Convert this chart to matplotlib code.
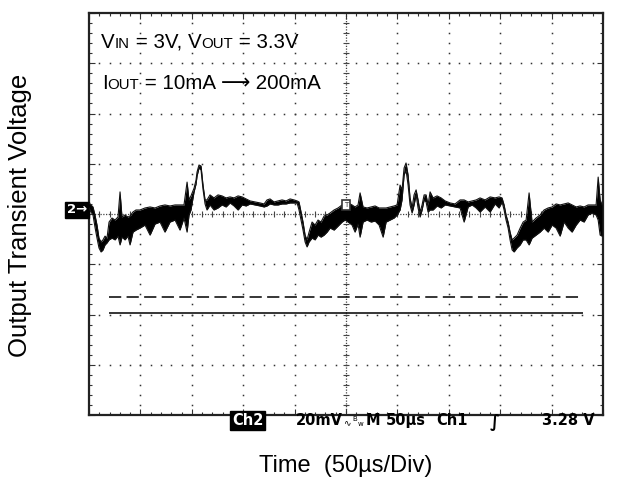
import matplotlib
matplotlib.use("Agg")
import matplotlib.pyplot as plt
import numpy as np

# ---- data (time in microseconds, voltage in mV, 20 mV/div, 50 us/div) ----
t_us = [0, 1.9, 3.9, 5.8, 7.8, 9.7, 11.7, 13.6, 15.6, 17.5,
        19.5, 22.4, 25.3, 28.2, 30.2, 32.1, 35.0, 37.9, 39.9, 42.8,
        45.7, 49.6, 54.5, 59.4, 64.2, 69.1, 73.9, 78.8, 83.7, 88.5,
        92.4, 95.4, 97.3, 99.2, 102.2, 104.1, 105.1, 107.0, 109.0, 110.9,
        112.9, 114.8, 117.7, 121.6, 125.5, 129.4, 133.3, 137.2, 141.1, 145.0,
        148.9, 152.8, 156.7, 161.5, 166.4, 170.3, 173.2, 176.1, 180.0, 183.9,
        187.8, 191.7, 195.6, 199.5, 202.4, 204.3, 206.3, 208.2, 210.2, 212.1,
        214.1, 217.0, 219.9, 222.8, 225.7, 228.7, 231.6, 234.5, 238.4, 242.3,
        246.2, 249.1, 252.0, 255.9, 258.8, 261.7, 263.7, 266.6, 270.5, 274.4,
        278.3, 282.2, 286.1, 289.0, 292.9, 296.8, 299.7, 302.6, 304.5, 306.5,
        308.4, 310.4, 312.3, 314.3, 316.2, 318.2, 320.1, 322.1, 324.0, 326.0,
        327.9, 329.8, 331.8, 334.7, 338.6, 342.5, 346.4, 351.3, 356.1, 361.0,
        364.9, 368.8, 372.7, 376.6, 380.4, 385.3, 390.2, 395.0, 398.9, 401.8,
        403.8, 405.7, 407.7, 409.6, 411.6, 413.5, 416.4, 419.4, 422.3, 425.2,
        428.1, 431.0, 434.9, 438.8, 442.7, 446.6, 450.5, 454.4, 458.3, 462.2,
        466.1, 469.9, 473.9, 477.7, 481.6, 485.5, 489.4, 493.3, 495.3, 497.2,
        499.1]

v_hi_mv = [4.4, 3.6, 2.8, -0.4, -4.4, -9.6, -11.1, -10.3, -8.8, -9.6,
           -3.2, -1.6, -2.4, -1.2, 8.8, -1.2, -0.4, -1.2, -0.8, 0.8,
           1.6, 1.6, 2.4, 2.8, 2.4, 3.2, 3.6, 3.2, 3.6, 3.6,
           3.6, 12.7, 5.6, 7.2, 10.3, 13.5, 16.7, 19.5, 19.1, 11.5,
           5.6, 5.6, 7.6, 6.4, 7.6, 7.2, 6.4, 6.8, 6.4, 7.2,
           6.8, 6.0, 5.2, 4.8, 4.4, 4.0, 5.6, 6.0, 4.8, 5.2,
           5.6, 5.2, 6.0, 5.6, 5.2, 4.8, 0.8, -3.2, -8.4, -10.3,
           -7.2, -3.2, -4.4, -2.4, -3.2, -0.8, -0.4, 0.4, 1.6, 2.4,
           3.6, 4.0, 4.4, 3.6, 2.8, 3.6, 8.4, 2.8, 2.4, 2.8,
           3.2, 2.4, 2.4, 2.4, 2.8, 3.2, 3.6, 11.5, 9.6, 18.3,
           20.3, 15.5, 6.4, 2.4, 7.6, 9.6, 5.6, 0.8, 3.6, 7.6,
           7.6, 3.6, 8.8, 6.4, 7.2, 6.4, 5.2, 4.4, 4.0, 5.6,
           5.6, 4.8, 5.2, 5.6, 6.4, 5.6, 6.8, 6.4, 6.8, 6.4,
           3.6, -0.4, -3.2, -7.2, -10.3, -9.6, -8.4, -5.6, -3.2, -2.4,
           8.4, -3.2, -1.6, -0.4, 1.6, 2.4, 2.8, 4.0, 3.6, 4.0,
           4.4, 3.6, 2.8, 3.2, 2.8, 3.6, 3.6, 3.6, 14.7, 5.6,
           3.6]

v_lo_mv = [2.4, 0.8, -0.4, -5.2, -9.6, -13.5, -15.1, -14.3, -12.3, -11.5,
           -10.3, -9.6, -10.3, -8.8, -12.3, -9.2, -10.3, -8.8, -12.3, -7.2,
           -6.4, -5.6, -4.4, -8.4, -4.0, -3.2, -7.2, -3.2, -2.4, -6.4,
           -1.6, -7.2, -0.4, 1.6, 8.8, 11.9, 15.1, 18.3, 17.5, 9.9,
           4.0, 1.6, 3.6, 1.6, 2.4, 3.6, 2.8, 4.4, 3.2, 1.6,
           3.6, 3.2, 4.0, 3.6, 3.2, 2.8, 3.2, 4.0, 3.6, 3.6,
           4.0, 4.0, 4.4, 4.4, 4.4, 1.6, -2.4, -6.4, -11.1, -13.1,
           -11.1, -9.6, -10.3, -8.4, -9.2, -8.4, -7.2, -5.6, -6.4, -4.8,
           -3.2, -2.4, -3.2, -4.4, -7.2, -4.0, -9.2, -3.2, -2.4, -3.2,
           -2.8, -4.4, -9.2, -3.2, -2.4, -1.6, -0.4, 1.6, 5.6, 15.5,
           17.5, 11.5, 3.6, 0.4, 3.6, 7.6, 2.4, -1.2, 1.6, 5.6,
           4.8, 0.8, 1.6, 1.6, 3.2, 2.4, 3.6, 3.2, 2.8, 2.4,
           -3.2, 2.8, 3.6, 2.4, 0.8, 2.8, 0.8, 4.0, 2.4, 4.8,
           1.6, -2.4, -5.6, -10.3, -14.3, -15.1, -13.5, -12.3, -10.3, -10.3,
           -12.3, -9.6, -8.4, -7.2, -5.6, -7.2, -4.4, -5.6, -8.8, -3.2,
           -5.6, -7.2, -4.4, -2.4, -3.2, -0.4, 0.4, -0.4, -2.4, -8.4,
           -8.8]

ch1_dashed_mv = -33.0
ch1_solid_mv = -39.4
ch1_span_us = [19.5, 480.5]
ch2_marker_mv = 1.6
trigger_marker = (250, 3.6)

title_line1 = [("V", 14.8), ("IN", 10.8), (" = 3V, V", 14.8), ("OUT", 10.8), (" = 3.3V", 14.8)]
title_line2 = [("I", 14.8), ("OUT", 10.8), (" = 10mA ", 14.8), ("\u27f6", 14.8), (" 200mA", 14.8)]
xlabel = "Time  (50\u00b5s/Div)"
ylabel = "Output Transient Voltage"

# ---- figure ----
W, H = 620, 488
fig = plt.figure(figsize=(W / 100, H / 100), dpi=100)
L, R, B, T = 89, 603, 415, 13
ax = fig.add_axes([L / W, 1 - B / H, (R - L) / W, (B - T) / H])
ax.set_xlim(0, 500)
ax.set_ylim(-80, 80)
FAM = ["Liberation Sans", "DejaVu Sans"]

for s in ax.spines.values():
    s.set_linewidth(1.6)
    s.set_color("#222222")

# frame ticks (inward, every minor division)
ax.set_xticks(np.arange(0, 501, 50))
ax.set_xticks(np.arange(0, 501, 10), minor=True)
ax.set_yticks(np.arange(-80, 81, 20))
ax.set_yticks(np.arange(-80, 81, 4), minor=True)
ax.tick_params(which="both", direction="in", top=True, right=True,
               labelbottom=False, labelleft=False, color="#333333", width=0.8)
ax.tick_params(which="major", length=4)
ax.tick_params(which="minor", length=2.5)

# graticule dots
ymin = np.arange(-80, 81, 4)
xmin = np.arange(0, 501, 10)
for xv in range(50, 500, 50):
    if xv == 250:
        continue
    ax.plot(np.full_like(ymin, xv, dtype=float), ymin, ls="none", marker="s",
            ms=1.1, mew=0, color="#333333", zorder=1)
for yv in range(-60, 80, 20):
    if yv == 0:
        continue
    ax.plot(xmin, np.full_like(xmin, yv, dtype=float), ls="none", marker="s",
            ms=1.1, mew=0, color="#333333", zorder=1)
# centre cross-hair
ax.axhline(0, ls=(0, (1, 1.2)), lw=0.9, color="#444444", zorder=1)
ax.axvline(250, ls=(0, (1, 1.2)), lw=0.9, color="#444444", zorder=1)
ax.plot(xmin, np.zeros_like(xmin), ls="none", marker="|", ms=4, mew=0.8,
        color="#444444", zorder=1)
ax.plot(np.full_like(ymin, 250, dtype=float), ymin, ls="none", marker="_",
        ms=4, mew=0.8, color="#444444", zorder=1)

# channel 1 reference lines
ax.hlines(ch1_dashed_mv, *ch1_span_us, colors="black", lw=1.1,
          linestyles=(0, (8, 3.5)), zorder=3)
ax.hlines(ch1_solid_mv, *ch1_span_us, colors="black", lw=1.1, zorder=3)

# channel 2 trace (noise envelope)
ax.fill_between(t_us, v_lo_mv, v_hi_mv, color="black", lw=0, zorder=4)
ax.plot(t_us, v_hi_mv, color="#111111", lw=0.8, zorder=4)
ax.plot(t_us, v_lo_mv, color="#111111", lw=0.8, zorder=4)

# trigger marker
ax.text(*trigger_marker, "T", fontsize=5, ha="center", va="center",
        color="#333333", zorder=5,
        bbox=dict(boxstyle="square,pad=0.25", fc="white", ec="#333333", lw=1.2))

# ch2 ground marker
ax.annotate("2\u2192", xy=(0, ch2_marker_mv), xycoords=("axes fraction", "data"),
            xytext=(-1.5, 0), textcoords="offset points", ha="right", va="center",
            fontsize=9.5, fontweight="bold", color="white", family="DejaVu Sans",
            bbox=dict(boxstyle="square,pad=0.12", fc="black", ec="black"),
            annotation_clip=False)


def chain(pieces, x_px, base_px):
    prev = None
    for s, size in pieces:
        kw = dict(fontsize=size, family=FAM, va="baseline", ha="left", color="black")
        if prev is None:
            prev = fig.text(x_px / W, 1 - base_px / H, s, **kw)
        else:
            prev = ax.annotate(s, xy=(1, 1 - base_px / H),
                               xycoords=(prev, "figure fraction"),
                               annotation_clip=False, **kw)


chain(title_line1, 101, 48)
chain(title_line2, 102, 89)

# axis labels
fig.text(346 / W, 1 - 466 / H, xlabel, ha="center", va="center", fontsize=17,
         family=FAM)
fig.text(20 / W, 1 - 215 / H, ylabel, ha="center", va="center", fontsize=18.5,
         rotation=90, family=FAM)

# scope status bar
SB = 1 - 425 / H
sfont = dict(family="DejaVu Sans", fontweight="bold", fontsize=10.5, va="baseline",
             ha="left", color="black")
small = {**sfont, "fontsize": 5.0, "fontweight": "normal"}
fig.text(232 / W, SB, "Ch2", **{**sfont, "color": "white"},
         bbox=dict(boxstyle="square,pad=0.12", fc="black", ec="black"))
fig.text(296 / W, SB, "20mV", **sfont)
fig.text(343.5 / W, SB, "\u223f", **{**sfont, "fontsize": 6.5, "fontweight": "normal"})
fig.text(352.5 / W, SB + 0.008, "B", **small)
fig.text(358 / W, SB - 0.002, "w", **small)
fig.text(366 / W, SB, "M", **sfont)
fig.text(386 / W, SB, "50\u00b5s", **sfont)
fig.text(436 / W, SB, "Ch1", **sfont)
fig.text(490 / W, SB - 0.004, "\u222b", **{**sfont, "fontsize": 12})
fig.text(542 / W, SB, "3.28 V", **sfont)

fig.savefig("out.png", dpi=100)
